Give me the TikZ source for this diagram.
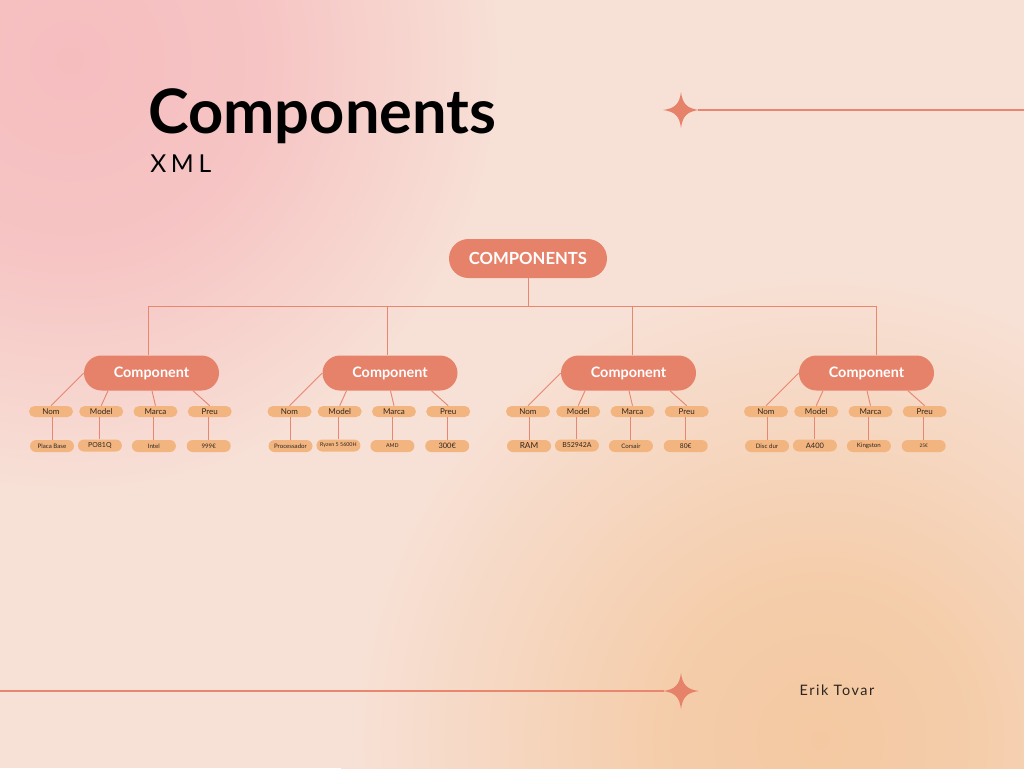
\documentclass[tikz,border=0pt]{standalone}
\usepackage{fontspec}
\setmainfont{Lato}
\usetikzlibrary{calc}
\definecolor{bgc}{HTML}{F7E1D7}
\definecolor{pinkc}{HTML}{F6BDBF}
\definecolor{peachc}{HTML}{F4C9A2}
\definecolor{salmon}{HTML}{E7826A}
\definecolor{linec}{HTML}{E8866F}
\definecolor{smallc}{HTML}{F3B580}
\definecolor{darktext}{HTML}{2E2520}
\pgfdeclareradialshading{pinkglow}{\pgfpointorigin}{color(0bp)=(pinkc); color(11bp)=(pinkc!80!bgc); color(25bp)=(bgc); color(50bp)=(bgc)}
\pgfdeclareradialshading{peachglow}{\pgfpointorigin}{color(0bp)=(peachc); color(8bp)=(peachc!85!bgc); color(25bp)=(bgc); color(50bp)=(bgc)}
\tikzset{
  rootbox/.style={fill=salmon, text=white, rounded corners=14.6pt, minimum width=118.5pt, minimum height=29.25pt, inner sep=0pt, font=\fontsize{12.5}{14}\selectfont\bfseries},
  compbox/.style={fill=salmon, text=white, rounded corners=13.1pt, minimum width=101.25pt, minimum height=26.25pt, inner sep=0pt, font=\fontsize{10.8}{12}\selectfont\bfseries},
  keybox/.style={fill=smallc, text=darktext, rounded corners=4.1pt, minimum width=33pt, minimum height=8.25pt, inner sep=0pt, font=\fontsize{6}{7}\selectfont},
  valbox/.style={fill=smallc, text=darktext, rounded corners=4.5pt, minimum width=33pt, minimum height=9pt, inner sep=0pt},
  conn/.style={draw=linec, line width=0.7pt},
  star/.style={fill=salmon}
}
\begin{document}
\begin{tikzpicture}[x=0.75pt,y=-0.75pt]
\useasboundingbox (0,0) rectangle (1024,768);
% background
\begin{scope}
\clip (0,0) rectangle (1024,768);
\fill[bgc] (0,0) rectangle (1024,768);
\shade[shading=pinkglow] (70,60) circle (330pt);
\shade[shading=peachglow] (820,740) circle (360pt);
\end{scope}
% title
\node[anchor=base west, inner sep=0pt, font=\fontsize{46}{52}\selectfont\bfseries] (title) at (148,133) {Components};
\node[anchor=base west, inner sep=0pt, font=\addfontfeatures{LetterSpace=19}\fontsize{18.5}{20}\selectfont] (sub) at (150,172) {XML};
% decorative lines and stars
\newcommand{\mystar}[2]{\fill[star] (#1,#2) ++(0,-18) .. controls ++(1.6,12) and ++(-12,-1.6) .. ++(18,18)
  .. controls ++(-12,1.6) and ++(1.6,-12) .. ++(-18,18)
  .. controls ++(-1.6,-12) and ++(12,1.6) .. ++(-18,-18)
  .. controls ++(12,-1.6) and ++(-1.6,12) .. ++(18,-18) -- cycle;}
\coordinate (s1) at (681,110);
\coordinate (e1) at (1024,110);
\coordinate (s2) at (681,691);
\coordinate (e2) at (0,691);
\draw[conn, line width=0.9pt] ($(s1)+(17,0)$) -- (e1);
\draw[conn, line width=0.9pt] ($(s2)+(-17,0)$) -- (e2);
\mystar{681}{110}
\mystar{681}{691}
\node[anchor=base, inner sep=0pt, font=\addfontfeatures{LetterSpace=11}\fontsize{10.8}{12}\selectfont, text=darktext] (author) at (837,695) {Erik Tovar};
% root
\node[rootbox] (root) at (528,258.5) {COMPONENTS};
\coordinate (t1) at (148,306);
\coordinate (t2) at (387,306);
\coordinate (t3) at (632,306);
\coordinate (t4) at (876,306);
\draw[conn] (root.south) -- (root.south |- t1);
\draw[conn] (t1) -- (t4);
% components
\foreach \i/\cx/\tx/\va/\fa/\vb/\fb/\vc/\fc/\vd/\fd in {
  1/151.5/t1/Placa Base/4.6/PO81Q/5.2/Intel/4.6/999€/4.6,
  2/390/t2/Processador/4.6/Ryzen 5 5600H/4/AMD/4/300€/5.6,
  3/628.5/t3/RAM/6.2/B52942A/5.2/Corsair/4.6/80€/5,
  4/866.5/t4/Disc dur/4.6/A400/5.6/Kingston/4.6/25€/3.6}{
  \node[compbox] (c\i) at (\cx,373) {Component};
  \draw[conn] (\tx) -- (\tx |- c\i.north);
  \node[keybox] (k\i a) at (\cx-100.5,411.5) {Nom};
  \node[keybox] (k\i b) at (\cx-50.3,411.5) {Model};
  \node[keybox] (k\i c) at (\cx+4,411.5) {Marca};
  \node[keybox] (k\i d) at (\cx+58.2,411.5) {Preu};
  \node[valbox, font=\fontsize{\fa}{\fa}\selectfont] (v\i a) at (\cx-99.5,446) {\va};
  \node[valbox, font=\fontsize{\fb}{\fb}\selectfont] (v\i b) at (\cx-51.6,445.5) {\vb};
  \node[valbox, font=\fontsize{\fc}{\fc}\selectfont] (v\i c) at (\cx+2.4,446) {\vc};
  \node[valbox, font=\fontsize{\fd}{\fd}\selectfont] (v\i d) at (\cx+57.2,446) {\vd};
  \draw[conn] (c\i.west) -- (k\i a.north);
  \draw[conn] ($(c\i.south)+(-43.5,0)$) -- (k\i b.north);
  \draw[conn] ($(c\i.south)+(0.5,0)$) -- (k\i c.north);
  \draw[conn] ($(c\i.south)+(41.5,0)$) -- (k\i d.north);
  \draw[conn] (v\i a.north) -- (v\i a.north |- k\i a.south);
  \draw[conn] (v\i b.north) -- (v\i b.north |- k\i b.south);
  \draw[conn] (v\i c.north) -- (v\i c.north |- k\i c.south);
  \draw[conn] (v\i d.north) -- (v\i d.north |- k\i d.south);
}
\end{tikzpicture}
\end{document}
